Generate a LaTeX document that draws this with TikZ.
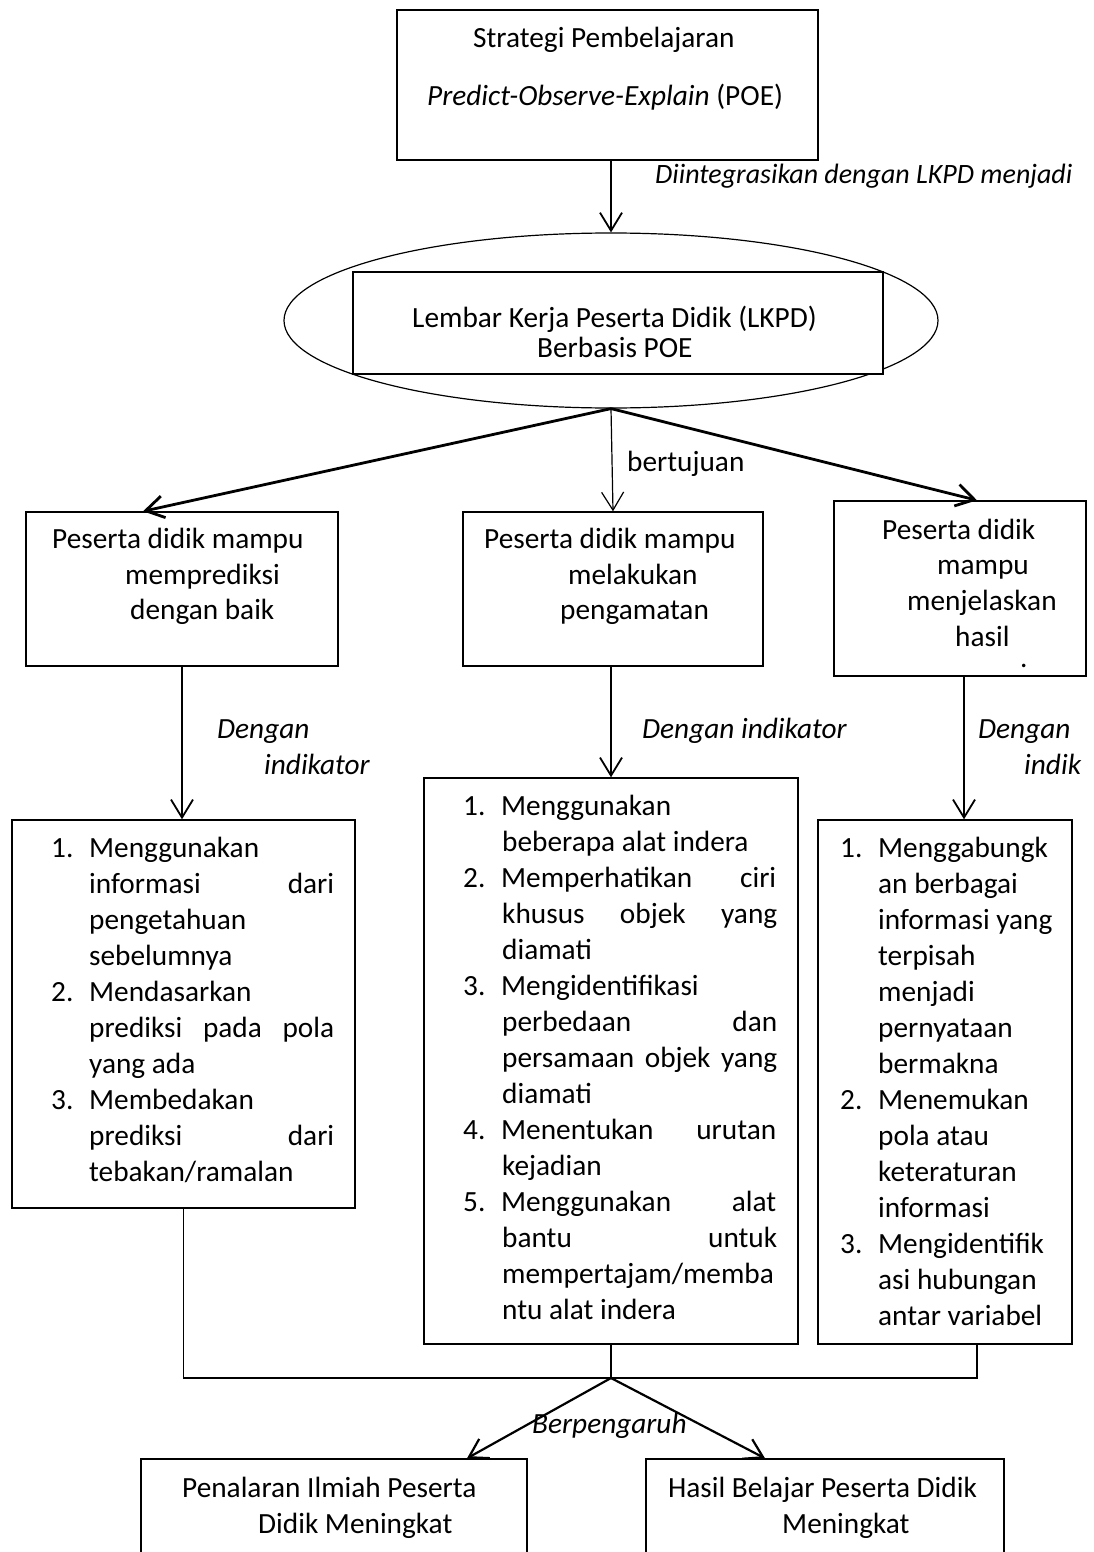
\documentclass[tikz,border=0pt]{standalone}
\usepackage{fontspec}
\setmainfont{Carlito}
\usetikzlibrary{arrows.meta,shapes.geometric}
\newcommand\fsz{\fontsize{29.3}{35}\selectfont}
\newcommand\numL[1]{\makebox[38pt][l]{#1}}
\begin{document}
\begin{tikzpicture}[x=1pt,y=-1pt,
  box/.style={draw, line width=1.4pt, inner sep=0pt},
  t/.style={anchor=base west, inner sep=0pt, font=\fsz},
  ti/.style={anchor=base west, inner sep=0pt, font=\fsz\itshape},
  arr/.style={-{Straight Barb[length=18pt,width=22pt]}},
  ]
\useasboundingbox (0,0) rectangle (1093,1552);
\clip (0,0) rectangle (1093,1552);
\fill[white] (0,0) rectangle (1093,1552);

% top box
\node[box, minimum width=421pt, minimum height=150pt] (top) at (607.5,85) {};
\node[t] (top1) at (473,48) {Strategi Pembelajaran};
\node[t] (top2) at (427,106) {\textit{Predict-Observe-Explain} (POE)};

% ellipse with LKPD box
\node[draw, ellipse, line width=1.2pt, minimum width=654pt, minimum height=175pt, inner sep=0pt] (ell) at (611,320.5) {};
\node[box, fill=white, minimum width=530pt, minimum height=102pt] (lk) at (618,323) {};
\node[t] (lk1) at (412,327) {Lembar Kerja Peserta Didik (LKPD)};
\node[t] (lk2) at (537,357) {Berbasis POE};

\draw[arr, line width=1.8pt] (ell.north |- top.south) -- (ell.north);
\node[ti, font=\fontsize{28}{34}\selectfont\itshape] (lab1) at (655,183) {Diintegrasikan dengan LKPD menjadi};

% upper boxes
\node[box, minimum width=312pt, minimum height=154pt] (b1) at (182,589) {};
\node[box, minimum width=300pt, minimum height=154pt] (b2) at (613,589) {};
\node[box, minimum width=252pt, minimum height=175pt] (b3) at (960,588.5) {};

\node[t] (b1a) at (52,548) {Peserta didik mampu};
\node[t] (b1b) at (125,584) {memprediksi};
\node[t] (b1c) at (130,619) {dengan baik};

\node[t] (b2a) at (484,548) {Peserta didik mampu};
\node[t] (b2b) at (568,584) {melakukan};
\node[t] (b2c) at (560,619) {pengamatan};

\node[t] (b3a) at (882,539) {Peserta didik};
\node[t] (b3b) at (937,574) {mampu};
\node[t] (b3c) at (907,610) {menjelaskan};
\node[t] (b3d) at (955,646) {hasil};
\node[t] (b3e) at (1020,667) {.};

\draw[arr, line width=2.8pt] (ell.south) -- ([xshift=-39pt]b1.north);
\draw[arr, line width=1.2pt] (ell.south) -- (b2.north);
\draw[arr, line width=2.8pt] (ell.south) -- ([xshift=17pt]b3.north);
\node[t] (bt) at (627,471) {bertujuan};

% list boxes
\node[box, minimum width=343pt, minimum height=388pt] (L) at (183.5,1014) {};
\node[box, minimum width=374pt, minimum height=566pt] (M) at (611,1061) {};
\node[box, minimum width=254pt, minimum height=524pt] (R) at (945,1082) {};

\draw[arr, line width=1.8pt] (b1.south) -- (b1.south |- L.north);
\draw[arr, line width=1.8pt] (M.north |- b2.south) -- (M.north);
\draw[arr, line width=1.8pt] ([xshift=4pt]b3.south) -- ([xshift=4pt]b3.south |- R.north);

\node[ti] (d1a) at (217,738) {Dengan};
\node[ti] (d1b) at (264,774) {indikator};
\node[ti] (d2) at (642,738) {Dengan indikator};
\node[ti] (d3a) at (978,738) {Dengan};
\node[ti] (d3b) at (1024,774) {indik};

% left list
\node[t] (l1) at (51,857) {\numL{1.}Menggunakan};
\node[t] (l2) at (89,893) {\makebox[245pt][s]{informasi dari}};
\node[t] (l3) at (89,929) {pengetahuan};
\node[t] (l4) at (89,965) {sebelumnya};
\node[t] (l5) at (51,1001) {\numL{2.}Mendasarkan};
\node[t] (l6) at (89,1037) {\makebox[245pt][s]{prediksi pada pola}};
\node[t] (l7) at (89,1073) {yang ada};
\node[t] (l8) at (51,1109) {\numL{3.}Membedakan};
\node[t] (l9) at (89,1145) {\makebox[245pt][s]{prediksi dari}};
\node[t] (l10) at (89,1181) {tebakan/ramalan};

% middle list
\node[t] (m1) at (463,815) {\numL{1.}Menggunakan};
\node[t] (m2) at (502,851) {beberapa alat indera};
\node[t] (m3) at (463,887) {\numL{2.}\makebox[275pt][s]{Memperhatikan ciri}};
\node[t] (m4) at (502,923) {\makebox[275pt][s]{khusus objek yang}};
\node[t] (m5) at (502,959) {diamati};
\node[t] (m6) at (463,995) {\numL{3.}Mengidentifikasi};
\node[t] (m7) at (502,1031) {\makebox[275pt][s]{perbedaan dan}};
\node[t] (m8) at (502,1067) {\makebox[275pt][s]{persamaan objek yang}};
\node[t] (m9) at (502,1103) {diamati};
\node[t] (m10) at (463,1139) {\numL{4.}\makebox[275pt][s]{Menentukan urutan}};
\node[t] (m11) at (502,1175) {kejadian};
\node[t] (m12) at (463,1211) {\numL{5.}\makebox[275pt][s]{Menggunakan alat}};
\node[t] (m13) at (502,1247) {\makebox[275pt][s]{bantu untuk}};
\node[t] (m14) at (502,1283) {mempertajam/memba};
\node[t] (m15) at (502,1319) {ntu alat indera};

% right list
\node[t] (r1) at (840,857) {\numL{1.}Menggabungk};
\node[t] (r2) at (878,893) {an berbagai};
\node[t] (r3) at (878,929) {informasi yang};
\node[t] (r4) at (878,965) {terpisah};
\node[t] (r5) at (878,1001) {menjadi};
\node[t] (r6) at (878,1037) {pernyataan};
\node[t] (r7) at (878,1073) {bermakna};
\node[t] (r8) at (840,1109) {\numL{2.}Menemukan};
\node[t] (r9) at (878,1145) {pola atau};
\node[t] (r10) at (878,1181) {keteraturan};
\node[t] (r11) at (878,1217) {informasi};
\node[t] (r12) at (840,1253) {\numL{3.}Mengidentifik};
\node[t] (r13) at (878,1289) {asi hubungan};
\node[t] (r14) at (878,1325) {antar variabel};

% bottom boxes
\node[box, minimum width=386pt, minimum height=121pt] (P) at (334,1519.5) {};
\node[box, minimum width=358pt, minimum height=121pt] (H) at (825,1519.5) {};
\node[t] (p1) at (182,1497) {Penalaran Ilmiah Peserta};
\node[t] (p2) at (258,1533) {Didik Meningkat};
\node[t] (h1) at (668,1497) {Hasil Belajar Peserta Didik};
\node[t] (h2) at (782,1533) {Meningkat};

% joining lines
\coordinate (J) at (611,1378);
\draw[line width=1.6pt] (L.south) -- (L.south |- J) -| ([xshift=32pt]R.south);
\draw[line width=1.4pt] (M.south) -- (J);
\draw[arr, line width=2.2pt] (J) -- ([xshift=133pt]P.north);
\draw[arr, line width=2.2pt] (J) -- ([xshift=-60pt]H.north);
\node[ti] (bp) at (532,1433) {Berpengaruh};
\end{tikzpicture}
\end{document}
